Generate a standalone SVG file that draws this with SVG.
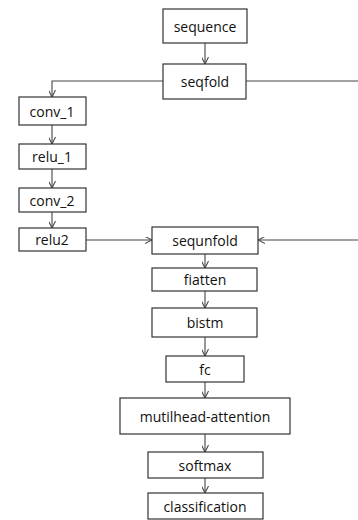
<svg xmlns="http://www.w3.org/2000/svg" width="358" height="520" viewBox="0 0 358 520">
<style>
.box{fill:#fff;stroke:#333;stroke-width:1.2}
.lbl{font-family:"Open Sans",sans-serif;font-size:14px;fill:#111;text-anchor:middle;dominant-baseline:central}
.con{fill:none;stroke:#444;stroke-width:1.1}
</style>
<defs>
<marker id="arr" viewBox="0 0 10 10" refX="10" refY="5" markerWidth="7" markerHeight="7" orient="auto" markerUnits="userSpaceOnUse">
<polyline points="0,0 10,5 0,10" fill="none" stroke="#444" stroke-width="1.5"/>
</marker>
</defs>
<rect width="358" height="520" fill="#fff"/>
<g id="connectors">
<line class="con" x1="205" y1="43" x2="205" y2="64" marker-end="url(#arr)"/>
<polyline class="con" points="163,81 52,81 52,97" marker-end="url(#arr)"/>
<line class="con" x1="246" y1="81" x2="358" y2="81"/>
<line class="con" x1="52" y1="125" x2="52" y2="144" marker-end="url(#arr)"/>
<line class="con" x1="52" y1="169" x2="52" y2="188" marker-end="url(#arr)"/>
<line class="con" x1="52" y1="212" x2="52" y2="228" marker-end="url(#arr)"/>
<line class="con" x1="86" y1="240" x2="152" y2="240" marker-end="url(#arr)"/>
<line class="con" x1="358" y1="240" x2="258" y2="240" marker-end="url(#arr)"/>
<line class="con" x1="205" y1="254" x2="205" y2="268" marker-end="url(#arr)"/>
<line class="con" x1="205" y1="291" x2="205" y2="308" marker-end="url(#arr)"/>
<line class="con" x1="205" y1="337" x2="205" y2="356" marker-end="url(#arr)"/>
<line class="con" x1="205" y1="382" x2="205" y2="398" marker-end="url(#arr)"/>
<line class="con" x1="205" y1="434" x2="205" y2="452" marker-end="url(#arr)"/>
<line class="con" x1="205" y1="478" x2="205" y2="493" marker-end="url(#arr)"/>
</g>
<g id="sequence"><rect class="box" x="163" y="9" width="84" height="34"/><text class="lbl" x="205" y="26">sequence</text></g>
<g id="seqfold"><rect class="box" x="163" y="64" width="83" height="35"/><text class="lbl" x="205" y="81">seqfold</text></g>
<g id="conv_1"><rect class="box" x="19" y="97" width="67" height="28"/><text class="lbl" x="52" y="111">conv_1</text></g>
<g id="relu_1"><rect class="box" x="19" y="144" width="67" height="25"/><text class="lbl" x="52" y="156.5">relu_1</text></g>
<g id="conv_2"><rect class="box" x="19" y="188" width="67" height="24"/><text class="lbl" x="52" y="200">conv_2</text></g>
<g id="relu2"><rect class="box" x="19" y="228" width="67" height="23"/><text class="lbl" x="52" y="239.5">relu2</text></g>
<g id="sequnfold"><rect class="box" x="152" y="227" width="106" height="27"/><text class="lbl" x="205" y="240.5">sequnfold</text></g>
<g id="fiatten"><rect class="box" x="152" y="268" width="105" height="23"/><text class="lbl" x="205" y="279.5">fiatten</text></g>
<g id="bistm"><rect class="box" x="152" y="308" width="105" height="29"/><text class="lbl" x="205" y="322.5">bistm</text></g>
<g id="fc"><rect class="box" x="166" y="356" width="78" height="26"/><text class="lbl" x="205" y="369">fc</text></g>
<g id="mutilhead-attention"><rect class="box" x="120" y="398" width="170" height="36"/><text class="lbl" x="205" y="416">mutilhead-attention</text></g>
<g id="softmax"><rect class="box" x="148" y="452" width="115" height="26"/><text class="lbl" x="205" y="465">softmax</text></g>
<g id="classification"><rect class="box" x="148" y="493" width="115" height="26"/><text class="lbl" x="205" y="506">classification</text></g>
</svg>
